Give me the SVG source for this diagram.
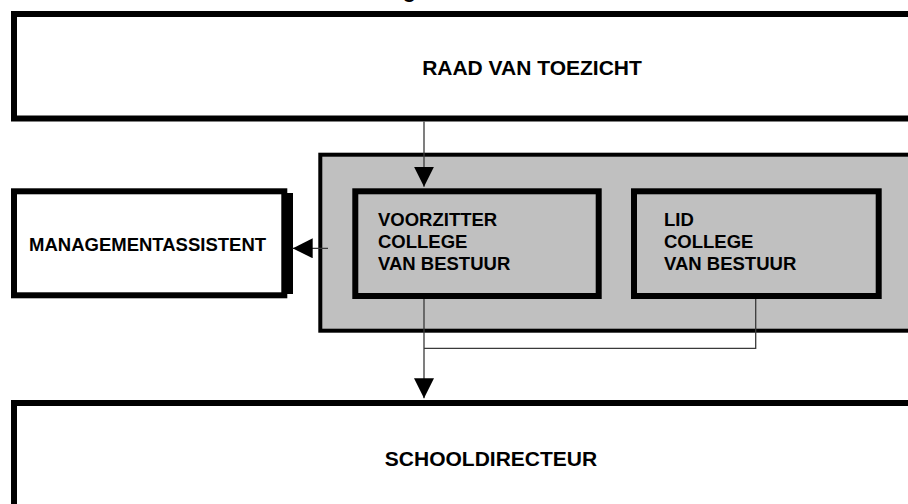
<svg xmlns="http://www.w3.org/2000/svg" width="908" height="504" viewBox="0 0 908 504">
  <style>
    .box { fill: #ffffff; stroke: #000000; stroke-width: 6; }
    .inner { fill: #c0c0c0; stroke: #000000; stroke-width: 6; }
    .group { fill: #c0c0c0; stroke: #000000; stroke-width: 4; }
    .big { font-family: "Liberation Sans", Arial, sans-serif; font-weight: bold; font-size: 21px; fill: #000000; }
    .small { font-family: "Liberation Sans", Arial, sans-serif; font-weight: bold; font-size: 18.5px; fill: #000000; }
    .conn { fill: none; stroke: #3a3a3a; stroke-width: 1.3; }
  </style>
  <defs>
    <marker id="arrow" markerUnits="userSpaceOnUse" markerWidth="20" markerHeight="20" refX="20" refY="10" orient="auto">
      <path d="M0,0 L20,10 L0,20 Z" fill="#000000"/>
    </marker>
  </defs>
  <rect width="908" height="504" fill="#ffffff"/>
  <text class="big" x="403" y="-2.5">g</text>

  <g id="raad-van-toezicht">
    <rect class="box" x="14" y="14" width="1000" height="104.5"/>
    <text class="big" x="532" y="75" text-anchor="middle">RAAD VAN TOEZICHT</text>
  </g>

  <g id="college-van-bestuur">
    <rect class="group" x="320.3" y="154.7" width="700" height="176"/>
  </g>

  <g id="managementassistent">
    <rect class="box" x="14" y="191.3" width="270.3" height="104"/>
    <rect x="287" y="193" width="6" height="101" fill="#000000"/>
    <text class="small" x="29" y="251">MANAGEMENTASSISTENT</text>
  </g>

  <g id="voorzitter">
    <rect class="inner" x="355.3" y="191.3" width="243.4" height="104.7"/>
    <text class="small" x="378" y="226">VOORZITTER</text>
    <text class="small" x="378" y="248">COLLEGE</text>
    <text class="small" x="378" y="270">VAN BESTUUR</text>
  </g>

  <g id="lid">
    <rect class="inner" x="634" y="191.3" width="244.7" height="104.7"/>
    <text class="small" x="664" y="226">LID</text>
    <text class="small" x="664" y="248">COLLEGE</text>
    <text class="small" x="664" y="270">VAN BESTUUR</text>
  </g>

  <g id="schooldirecteur">
    <rect class="box" x="14" y="403" width="1000" height="200"/>
    <text class="big" x="491" y="466" text-anchor="middle">SCHOOLDIRECTEUR</text>
  </g>

  <g id="connectors">
    <path class="conn" d="M424,121.5 L424,186.7" marker-end="url(#arrow)"/>
    <path class="conn" d="M424,299 L424,398.3" marker-end="url(#arrow)"/>
    <path class="conn" d="M424,348.3 L755.7,348.3 L755.7,299"/>
    <path class="conn" d="M328,248.3 L292.7,248.3" marker-end="url(#arrow)"/>
  </g>
</svg>
